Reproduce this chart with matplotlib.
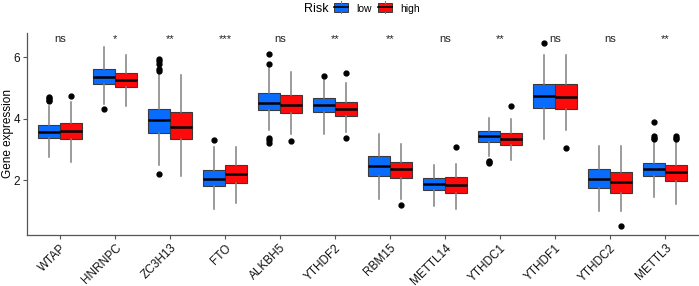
import matplotlib
matplotlib.use("Agg")
import matplotlib.pyplot as plt
from matplotlib.patches import Patch
from matplotlib.lines import Line2D
from matplotlib.legend_handler import HandlerBase
from matplotlib.offsetbox import HPacker
import matplotlib.patches as mpatches

plt.rcParams['font.family'] = ['Liberation Sans', 'DejaVu Sans']

genes = ["WTAP", "HNRNPC", "ZC3H13", "FTO", "ALKBH5", "YTHDF2", "RBM15",
         "METTL14", "YTHDC1", "YTHDF1", "YTHDC2", "METTL3"]
signif = ["ns", "*", "**", "***", "ns", "**", "**", "ns", "**", "ns", "ns", "**"]

# (whislo, q1, med, q3, whishi)
low_stats = [
    (2.75, 3.37, 3.58, 3.79, 4.41),
    (4.47, 5.12, 5.36, 5.61, 6.33),
    (2.48, 3.54, 3.95, 4.30, 5.50),
    (1.06, 1.80, 2.04, 2.32, 3.08),
    (3.62, 4.27, 4.52, 4.84, 5.64),
    (3.51, 4.21, 4.44, 4.66, 5.26),
    (1.39, 2.14, 2.46, 2.77, 3.51),
    (1.15, 1.68, 1.87, 2.07, 2.48),
    (2.77, 3.24, 3.43, 3.60, 4.03),
    (3.35, 4.35, 4.74, 5.12, 6.08),
    (1.01, 1.74, 2.05, 2.36, 3.10),
    (1.44, 2.12, 2.37, 2.57, 3.21),
]
high_stats = [
    (2.59, 3.34, 3.59, 3.86, 4.55),
    (4.41, 5.04, 5.25, 5.48, 6.08),
    (2.13, 3.34, 3.73, 4.21, 5.42),
    (1.26, 1.92, 2.20, 2.48, 3.08),
    (3.51, 4.18, 4.45, 4.77, 5.50),
    (3.57, 4.10, 4.32, 4.55, 5.15),
    (1.39, 2.07, 2.36, 2.59, 3.17),
    (1.06, 1.57, 1.86, 2.09, 2.53),
    (2.66, 3.14, 3.34, 3.53, 3.98),
    (3.62, 4.31, 4.71, 5.12, 6.08),
    (1.01, 1.57, 1.93, 2.27, 3.12),
    (1.23, 1.97, 2.25, 2.48, 3.24),
]
low_outliers = [
    [4.71, 4.66, 4.62, 4.58],
    [4.30],
    [5.93, 5.86, 5.78, 5.60, 5.56, 2.20],
    [3.30],
    [6.11, 5.76, 3.37, 3.31, 3.21],
    [5.37],
    [],
    [],
    [2.62, 2.58, 2.56],
    [6.46],
    [],
    [3.90, 3.43, 3.37, 3.34],
]
high_outliers = [
    [4.74],
    [],
    [],
    [],
    [3.28],
    [5.47, 3.38],
    [1.20],
    [3.08],
    [4.41],
    [3.06],
    [0.51],
    [3.43, 3.37, 3.34],
]

blue = "#0A6CFF"
red = "#FF0A0A"

def make_stats(stats, outs):
    res = []
    for (lo, q1, med, q3, hi), fl in zip(stats, outs):
        res.append(dict(whislo=lo, q1=q1, med=med, q3=q3, whishi=hi, fliers=fl))
    return res

fig = plt.figure(figsize=(6.99, 2.86), dpi=100)
ax = fig.add_axes([27/699, 51/286, (698-27)/699, (235-33)/286])

n = len(genes)
pos = list(range(1, n + 1))
w = 0.4
for stats, outs, offs, col in [(low_stats, low_outliers, -0.2, blue),
                               (high_stats, high_outliers, 0.2, red)]:
    ax.bxp(make_stats(stats, outs), positions=[p + offs for p in pos], widths=w,
           patch_artist=True, showcaps=False,
           boxprops=dict(facecolor=col, edgecolor="#3a3a3a", linewidth=0.8),
           medianprops=dict(color="black", linewidth=1.8),
           whiskerprops=dict(color="#808080", linewidth=1.1),
           flierprops=dict(marker="o", markerfacecolor="black", markeredgecolor="black",
                           markersize=3.5, linestyle="none"))

for p, s in zip(pos, signif):
    ax.text(p, 6.58, s, ha="center", va="center", fontsize=8, color="#222222")

ax.set_xlim(0.4, n + 0.6)
ax.set_ylim(0.22, 6.78)
ax.set_yticks([2, 4, 6])
ax.set_yticklabels(["2", "4", "6"])
ax.set_xticks(pos)
ax.set_xticklabels(genes, rotation=45, ha="right", rotation_mode="anchor")
ax.tick_params(axis="both", length=3, color="#555555", labelcolor="#111111", pad=2)
ax.tick_params(axis="y", labelsize=8.5)
ax.tick_params(axis="x", labelsize=8.5)
ax.set_ylabel("Gene expression", fontsize=8.5)
ax.yaxis.set_label_coords(-0.019, 0.5)
for sp in ["top", "right"]:
    ax.spines[sp].set_visible(False)
for sp in ["left", "bottom"]:
    ax.spines[sp].set_color("#555555")
    ax.spines[sp].set_linewidth(0.9)

class BoxHandler(HandlerBase):
    def __init__(self, col):
        super().__init__()
        self.col = col
    def create_artists(self, legend, orig, xd, yd, width, height, fontsize, trans):
        r = mpatches.Rectangle((xd + width * 0.1, yd - height * 0.05), width * 0.8, height * 1.0,
                               facecolor=self.col, edgecolor="#3a3a3a", linewidth=0.7, transform=trans)
        m = Line2D([xd + width * 0.1, xd + width * 0.9], [yd + height * 0.45] * 2, color="black",
                   linewidth=1.2, transform=trans)
        wt = Line2D([xd + width / 2] * 2, [yd + height * 0.95, yd + height * 1.15], color="#808080",
                    linewidth=0.8, transform=trans)
        wb = Line2D([xd + width / 2] * 2, [yd - height * 0.05, yd - height * 0.25], color="#808080",
                    linewidth=0.8, transform=trans)
        return [r, m, wt, wb]

h1 = Patch(facecolor=blue)
h2 = Patch(facecolor=red)
leg = fig.legend([h1, h2], ["low", "high"], title="Risk", ncol=2, frameon=False,
                 loc="center", bbox_to_anchor=(362/699, 1 - 9/286),
                 handler_map={h1: BoxHandler(blue), h2: BoxHandler(red)},
                 fontsize=7.5, title_fontsize=9, handlelength=1.68, handleheight=0.95,
                 handletextpad=0.6, columnspacing=0.5, borderpad=0.1)
lb = leg._legend_box
lb.__class__ = HPacker
lb.sep = 2.5
lb.align = "center"

fig.savefig("out.png", dpi=100)
